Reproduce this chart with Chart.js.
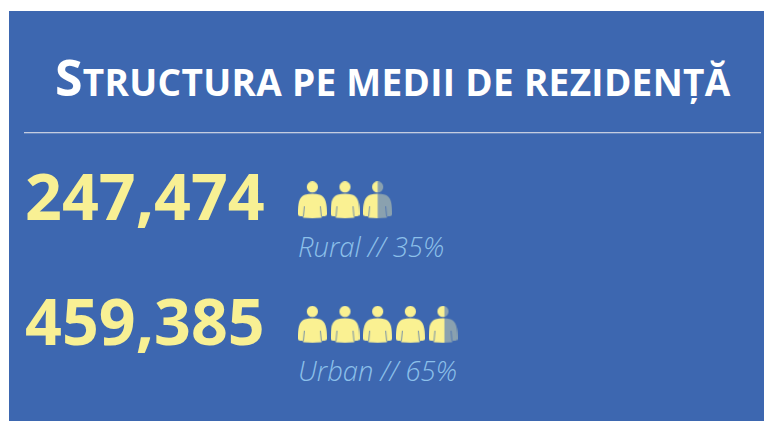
<!DOCTYPE html>
<html>
<head>
<meta charset="utf-8">
<script src="https://cdnjs.cloudflare.com/ajax/libs/Chart.js/4.4.1/chart.umd.js"></script>
<style>
html, body { margin: 0; padding: 0; background: #ffffff; overflow: hidden; }
#page { position: relative; width: 764px; height: 421px; overflow: hidden; }
#panel { position: absolute; left: 9px; top: 11px; width: 755px; height: 410px; background: #3d67b0; }
#rule { position: absolute; left: 24px; top: 132px; width: 737px; height: 1px; background: #c4cce0; box-shadow: 0 1px 0 rgba(196,204,224,0.3); }
#title { position: absolute; left: 55px; top: 43px; color: #ffffff; font: 700 50px "Open Sans", sans-serif; white-space: nowrap; line-height: 68px; letter-spacing: 0.3px; }
#title span { font-size: 37px; text-transform: uppercase; }
.num { position: absolute; left: 25px; color: #f8f094; font: 700 64.5px "Open Sans", sans-serif; line-height: 70px; white-space: nowrap; }
.cap { position: absolute; left: 298px; color: #8cc0ea; font: italic 300 27.4px "Open Sans", sans-serif; line-height: 30px; white-space: nowrap; }
#icons { position: absolute; left: 296px; top: 138px; }
</style>
</head>
<body>
<div id="page">
  <div id="panel"></div>
  <div id="title">S<span>tructura pe medii de rezidență</span></div>
  <div id="rule"></div>
  <div id="labels"></div>
  <canvas id="icons" width="196" height="249"></canvas>
</div>
<script>
var categories = ["Rural", "Urban"];
var population = [247474, 459385];
var shares = [35, 65];
var iconCounts = [3, 5];
var filledIcons = [2.5, 4.55];

var numberTops = [160, 285];
var captionTops = [232, 356];
var yellow = "#faf192";
var grey = "#8aa1af";

// one person, drawn in a 29x37 box
function personPath(c) {
    c.beginPath();
    c.arc(14.5, 5.7, 5.6, 0, Math.PI * 2);
    c.closePath();
    c.moveTo(0, 33);
    c.bezierCurveTo(0, 22, 1, 16, 7, 13.5);
    c.quadraticCurveTo(14.5, 11.5, 22, 13.5);
    c.bezierCurveTo(28, 16, 29, 22, 29, 33);
    c.quadraticCurveTo(29, 35, 26.5, 35);
    c.lineTo(24.5, 35);
    c.lineTo(23.5, 36.6);
    c.quadraticCurveTo(14.5, 37.2, 5.5, 36.6);
    c.lineTo(4.5, 35);
    c.lineTo(2.5, 35);
    c.quadraticCurveTo(0, 35, 0, 33);
    c.closePath();
}

function makeIcon(fraction) {
    var cv = document.createElement("canvas");
    cv.width = 29;
    cv.height = 38;
    var c = cv.getContext("2d");
    c.fillStyle = grey;
    c.fillRect(0, 0, 29, 38);
    c.fillStyle = yellow;
    c.fillRect(0, 0, 29 * fraction, 38);
    // keep only the person shape
    c.globalCompositeOperation = "destination-in";
    personPath(c);
    c.fill();
    // thin gaps between arms and body
    c.globalCompositeOperation = "destination-out";
    c.lineWidth = 0.7;
    c.beginPath();
    c.moveTo(6.5, 25);
    c.lineTo(5.5, 35.5);
    c.moveTo(22.5, 25);
    c.lineTo(23.5, 35.5);
    c.stroke();
    return cv;
}

var labels = document.getElementById("labels");
categories.forEach(function (name, i) {
    var n = document.createElement("div");
    n.className = "num";
    n.style.top = numberTops[i] + "px";
    n.textContent = population[i].toLocaleString("en-US");
    labels.appendChild(n);
    var t = document.createElement("div");
    t.className = "cap";
    t.style.top = captionTops[i] + "px";
    t.textContent = name + " // " + shares[i] + "%";
    labels.appendChild(t);
});

var points = [];
var styles = [];
categories.forEach(function (name, i) {
    for (var k = 0; k < iconCounts[i]; k++) {
        points.push({ x: k, y: name });
        styles.push(makeIcon(Math.max(0, Math.min(1, filledIcons[i] - k))));
    }
});

new Chart(document.getElementById("icons"), {
    type: "scatter",
    data: {
        datasets: [{
            data: points,
            pointStyle: styles,
            pointRadius: 14,
            pointHoverRadius: 14
        }]
    },
    options: {
        responsive: false,
        animation: false,
        events: [],
        plugins: { legend: { display: false }, tooltip: { enabled: false } },
        layout: { padding: 0, autoPadding: false },
        scales: {
            x: { type: "linear", min: -0.5, max: 5.5, display: false },
            y: { type: "category", labels: categories, offset: true, display: false }
        }
    }
});
</script>
</body>
</html>
